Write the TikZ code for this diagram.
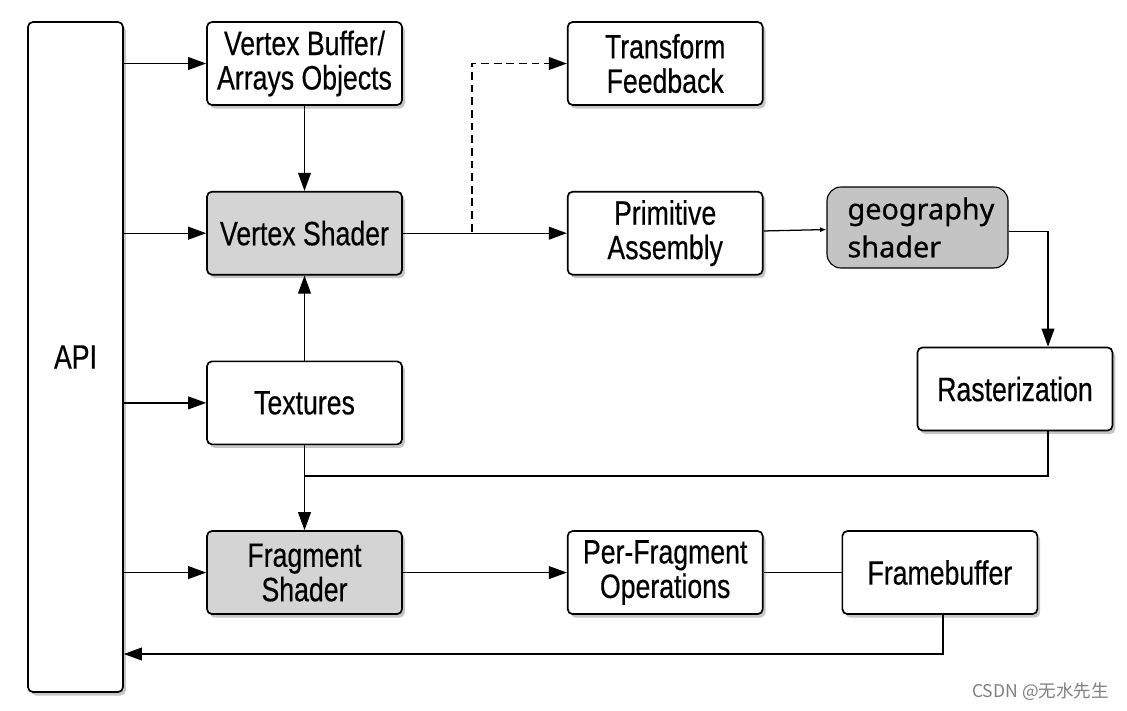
\documentclass[tikz,border=0pt]{standalone}
\usepackage{fontspec}
\setmainfont[FakeStretch=0.79,FakeBold=0.4]{Liberation Sans}
\newfontfamily\geofont[FakeBold=0.6]{Noto Sans}
\newfontfamily\cjkfont{Noto Sans CJK SC}
\usetikzlibrary{positioning,arrows.meta,shadows}

\definecolor{stagegray}{RGB}{212,212,212}
\definecolor{geogray}{RGB}{196,196,196}

\begin{document}
\begin{tikzpicture}[
  node distance=2.125cm and 4.1cm,
  box/.style={draw, line width=1.2pt, rounded corners=3.5pt, fill=white, align=center,
              font=\fontsize{24}{24.5}\selectfont, minimum width=4.875cm, minimum height=2.075cm,
              inner sep=2pt, drop shadow={shadow xshift=2pt, shadow yshift=-2.5pt, opacity=0.45}},
  shaded/.style={box, fill=stagegray},
  arr/.style={-{Triangle[length=4.5mm,width=3.2mm]}, line width=0.9pt},
  link/.style={line width=0.9pt}
]
\useasboundingbox (0,0) rectangle (28.175,-17.75);

\node[box, minimum width=2.375cm, minimum height=16.75cm] (api) at (1.8875,-8.925) {API};

\node[box] (vbo) at (7.6125,-1.5875) {Vertex Buffer/\\Arrays Objects};
\node[shaded] (vs) [below=of vbo] {Vertex Shader};
\node[box] (tex) [below=of vs] {Textures};
\node[shaded] (fs) [below=of tex] {Fragment\\Shader};

\node[box] (tf) [right=of vbo] {Transform\\Feedback};
\node[box] (pa) [right=of vs] {Primitive\\Assembly};
\node[box] (pfo) [right=of fs] {Per-Fragment\\Operations};
\node[box] (fb) [right=1.95cm of pfo] {Framebuffer};

\node[draw, line width=0.8pt, rounded corners=0.35cm, fill=geogray, align=left,
      minimum width=4.525cm, minimum height=2.025cm, text width=3.5cm, inner xsep=0.5125cm,
      font=\geofont\fontsize{20.5}{27}\selectfont] (geo) at (22.9375,-5.6875) {geography\\shader};
\node[box] (rast) at (25.375,-9.725) {Rasterization};

\coordinate (split) at (11.8,-5.7875);
\coordinate (turn) at (26.2,-5.7875);
\coordinate (join) at (26.2,-11.9);
\coordinate (back) at (23.575,-16.35);

% API feeds
\draw[arr] (vbo.west -| api.east) -- (vbo.west);
\draw[arr] (vs.west -| api.east) -- (vs.west);
\draw[arr] (tex.west -| api.east) -- (tex.west);
\draw[arr] (fs.west -| api.east) -- (fs.west);

\draw[arr] (vbo) -- (vs);
\draw[arr] (tex) -- (vs);
\draw[arr] (tex) -- (fs);

\draw[arr] (vs) -- (pa);
\draw[arr, dash pattern=on 5.5pt off 3.5pt] (split) |- (tf.west);
\draw[link, -{Latex[length=1.6mm,width=1.3mm]}] (pa) -- (geo);
\draw[arr] (geo.east |- turn) -- (turn) -- (turn |- rast.north);
\draw[link] (turn |- rast.south) -- (join) -- (join -| tex.south);

\draw[arr] (fs) -- (pfo);
\draw[link] (pfo) -- (fb);
\draw[arr] (fb.south -| back) -- (back) -- (back -| api.east);

\node[text=gray, font=\cjkfont\fontsize{12.5}{14}\selectfont, anchor=east] (mark) at (27.85,-17.3) {CSDN @无水先生};
\end{tikzpicture}
\end{document}
